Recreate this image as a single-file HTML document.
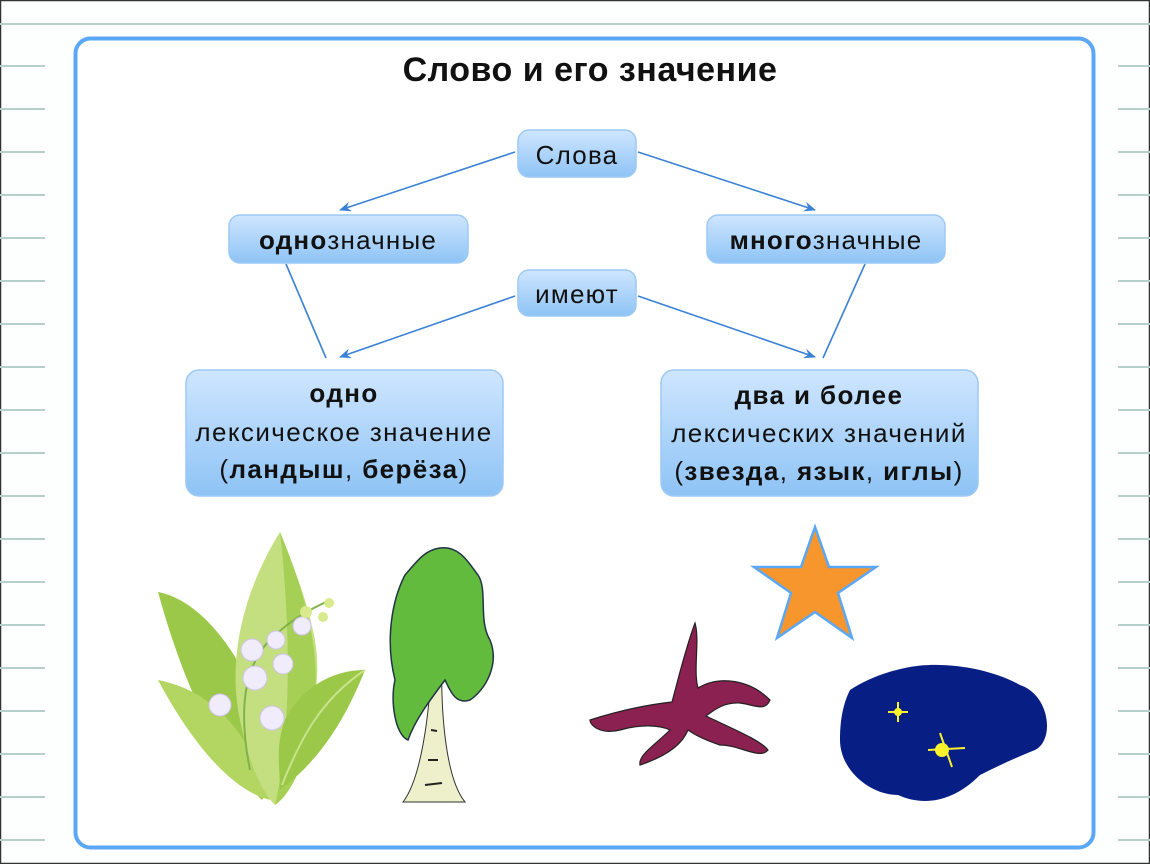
<!DOCTYPE html>
<html><head><meta charset="utf-8"><style>
html,body{margin:0;padding:0;background:#fff}
svg{display:block}
text{font-family:"Liberation Sans","DejaVu Sans",sans-serif;fill:#111}
.n{font-size:26px;letter-spacing:1.2px}
.b{font-size:26px;letter-spacing:1.4px}
</style></head><body>
<svg width="1150" height="864" viewBox="0 0 1150 864" xmlns="http://www.w3.org/2000/svg">
<defs>
<linearGradient id="g" x1="0" y1="0" x2="0" y2="1"><stop offset="0" stop-color="#cfe6ff"/><stop offset="1" stop-color="#8ec3f5"/></linearGradient>
<marker id="a" markerWidth="12" markerHeight="10" refX="11" refY="5" orient="auto" markerUnits="userSpaceOnUse"><path d="M0,0 L12,5 L0,10 L4,5 Z" fill="#3b82d6"/></marker>
</defs>
<rect x="0" y="0" width="1150" height="864" fill="#fdfefe"/>
<rect x="0.5" y="0.5" width="1149" height="863" fill="none" stroke="#333" stroke-width="1.5"/>
<line x1="0" y1="24" x2="1150" y2="24" stroke="#b7cfca" stroke-width="2"/>
<g stroke="#b7cfca" stroke-width="2">
<line x1="0" y1="66" x2="45" y2="66"/><line x1="1118" y1="66" x2="1150" y2="66"/>
<line x1="0" y1="109" x2="45" y2="109"/><line x1="1118" y1="109" x2="1150" y2="109"/>
<line x1="0" y1="152" x2="45" y2="152"/><line x1="1118" y1="152" x2="1150" y2="152"/>
<line x1="0" y1="195" x2="45" y2="195"/><line x1="1118" y1="195" x2="1150" y2="195"/>
<line x1="0" y1="238" x2="45" y2="238"/><line x1="1118" y1="238" x2="1150" y2="238"/>
<line x1="0" y1="281" x2="45" y2="281"/><line x1="1118" y1="281" x2="1150" y2="281"/>
<line x1="0" y1="324" x2="45" y2="324"/><line x1="1118" y1="324" x2="1150" y2="324"/>
<line x1="0" y1="367" x2="45" y2="367"/><line x1="1118" y1="367" x2="1150" y2="367"/>
<line x1="0" y1="410" x2="45" y2="410"/><line x1="1118" y1="410" x2="1150" y2="410"/>
<line x1="0" y1="453" x2="45" y2="453"/><line x1="1118" y1="453" x2="1150" y2="453"/>
<line x1="0" y1="496" x2="45" y2="496"/><line x1="1118" y1="496" x2="1150" y2="496"/>
<line x1="0" y1="539" x2="45" y2="539"/><line x1="1118" y1="539" x2="1150" y2="539"/>
<line x1="0" y1="582" x2="45" y2="582"/><line x1="1118" y1="582" x2="1150" y2="582"/>
<line x1="0" y1="625" x2="45" y2="625"/><line x1="1118" y1="625" x2="1150" y2="625"/>
<line x1="0" y1="668" x2="45" y2="668"/><line x1="1118" y1="668" x2="1150" y2="668"/>
<line x1="0" y1="711" x2="45" y2="711"/><line x1="1118" y1="711" x2="1150" y2="711"/>
<line x1="0" y1="754" x2="45" y2="754"/><line x1="1118" y1="754" x2="1150" y2="754"/>
<line x1="0" y1="797" x2="45" y2="797"/><line x1="1118" y1="797" x2="1150" y2="797"/>
<line x1="0" y1="840" x2="45" y2="840"/><line x1="1118" y1="840" x2="1150" y2="840"/>
</g>
<rect x="75.5" y="38.5" width="1018" height="809" rx="15" fill="#fff" stroke="#5aa8f5" stroke-width="4"/>
<text x="590" y="81" text-anchor="middle" font-size="34" font-weight="bold" letter-spacing="0.5">Слово и его значение</text>

<g stroke="#3b82d6" stroke-width="1.6" fill="none">
<line x1="515" y1="152" x2="340" y2="210" marker-end="url(#a)"/>
<line x1="638" y1="152" x2="815" y2="210" marker-end="url(#a)"/>
<line x1="515" y1="296" x2="340" y2="357" marker-end="url(#a)"/>
<line x1="638" y1="296" x2="815" y2="357" marker-end="url(#a)"/>
<line x1="286" y1="264" x2="326" y2="358"/>
<line x1="865" y1="264" x2="823" y2="358"/>
</g>
<g stroke="#9ccaf5" stroke-width="1.5" fill="url(#g)">
<rect x="518" y="130" width="118" height="47" rx="11"/>
<rect x="229" y="215" width="239" height="48" rx="11"/>
<rect x="707" y="215" width="238" height="48" rx="11"/>
<rect x="518" y="270" width="118" height="46" rx="11"/>
<rect x="186" y="370" width="317" height="126" rx="13"/>
<rect x="661" y="370" width="317" height="126" rx="13"/>
</g>
<text class="n" x="577" y="164" text-anchor="middle">Слова</text>
<text class="n" x="348" y="249" text-anchor="middle"><tspan font-weight="bold">одно</tspan>значные</text>
<text class="n" x="826" y="249" text-anchor="middle"><tspan font-weight="bold">много</tspan>значные</text>
<text class="n" x="577" y="303" text-anchor="middle">имеют</text>
<text class="b" x="344" y="402" text-anchor="middle" font-weight="bold">одно</text>
<text class="b" x="344" y="441" text-anchor="middle">лексическое значение</text>
<text class="b" x="344" y="478" text-anchor="middle">(<tspan font-weight="bold">ландыш</tspan>, <tspan font-weight="bold">берёза</tspan>)</text>
<text class="b" x="819" y="404" text-anchor="middle" font-weight="bold">два и более</text>
<text class="b" x="819" y="442" text-anchor="middle">лексических значений</text>
<text class="b" x="819" y="480" text-anchor="middle">(<tspan font-weight="bold">звезда</tspan>, <tspan font-weight="bold">язык</tspan>, <tspan font-weight="bold">иглы</tspan>)</text>

<!-- lily of the valley -->
<g>
<path d="M158,592 C200,600 240,650 265,720 C280,760 270,790 262,800 C220,760 185,690 158,592 Z" fill="#9cc84a"/>
<path d="M158,680 C210,690 250,730 270,800 C230,790 190,740 158,680 Z" fill="#b3d663"/>
<path d="M280,532 C250,580 225,650 240,720 C250,770 265,795 275,805 C300,760 325,700 315,640 C305,590 290,560 280,532 Z" fill="#c4df80"/>
<path d="M280,532 C300,580 320,640 315,700 C310,760 290,795 275,805 C290,740 292,640 280,532 Z" fill="#a5cf55"/>
<path d="M365,670 C330,670 300,690 285,720 C275,745 280,770 280,790 C320,760 345,720 365,670 Z" fill="#9cc84a"/>
<path d="M365,670 C320,700 300,740 282,785" stroke="#c9e38c" stroke-width="2" fill="none"/>
<path d="M250,770 C240,720 240,670 270,640 C295,615 320,605 330,600" stroke="#7fb34a" stroke-width="2" fill="none"/>
<g fill="#f1ecfb" stroke="#cfc2ec" stroke-width="1">
<circle cx="220" cy="705" r="11"/><circle cx="272" cy="718" r="12"/><circle cx="255" cy="678" r="12"/>
<circle cx="283" cy="664" r="10"/><circle cx="252" cy="650" r="11"/><circle cx="276" cy="640" r="9"/><circle cx="302" cy="626" r="9"/>
</g>
<g fill="#d9ea8e"><circle cx="306" cy="612" r="6"/><circle cx="323" cy="617" r="5"/><circle cx="329" cy="603" r="5"/></g>
</g>
<!-- birch -->
<path d="M432,650 C430,720 420,780 403,802 L465,802 C447,780 440,720 442,650 Z" fill="#eef0cc" stroke="#333" stroke-width="1"/>
<g stroke="#222" stroke-width="2"><line x1="428" y1="760" x2="438" y2="760"/><line x1="425" y1="785" x2="442" y2="783"/><line x1="431" y1="730" x2="437" y2="731"/></g>
<path d="M440,548 C460,545 470,565 478,575 C488,590 478,620 490,640 C500,665 485,690 470,700 C455,705 450,690 445,680 C430,700 415,720 408,740 C395,735 390,700 395,680 C385,640 392,600 405,575 C418,560 425,550 440,548 Z" fill="#62bb3c" stroke="#234" stroke-width="1.5"/>
<!-- starfish -->
<path d="M695,623 C700,640 693,670 698,688 C720,675 750,680 770,700 C765,712 755,705 740,703 C722,702 712,712 706,716 C735,730 760,740 768,750 C760,760 740,745 720,745 C705,740 695,735 688,730 C680,750 655,760 640,765 C638,755 655,745 670,730 C660,725 640,724 620,730 C600,735 590,725 590,720 C615,712 645,705 672,702 C678,680 685,650 695,623 Z" fill="#8a2150" stroke="#222" stroke-width="1.2"/>
<!-- star -->
<polygon points="815,527 829,567 876,567 838,593 852,638 815,612 777,638 791,593 754,567 801,567" fill="#f7962c" stroke="#5aa8f5" stroke-width="2.5"/>
<!-- night sky -->
<path d="M905,668 C940,660 990,668 1020,685 C1050,695 1055,740 1035,750 C1010,760 990,770 980,775 C950,805 920,805 898,795 C870,795 840,770 840,740 C840,715 845,700 850,690 C865,680 885,672 905,668 Z" fill="#071e85"/>
<g stroke="#fbf22d" stroke-width="2"><line x1="898" y1="702" x2="898" y2="722"/><line x1="888" y1="712" x2="908" y2="712"/><line x1="940" y1="733" x2="952" y2="767"/><line x1="928" y1="750" x2="965" y2="748"/></g>
<circle cx="898" cy="712" r="4" fill="#fbf22d"/><circle cx="942" cy="750" r="7" fill="#fbf22d"/>
</svg>
</body></html>
